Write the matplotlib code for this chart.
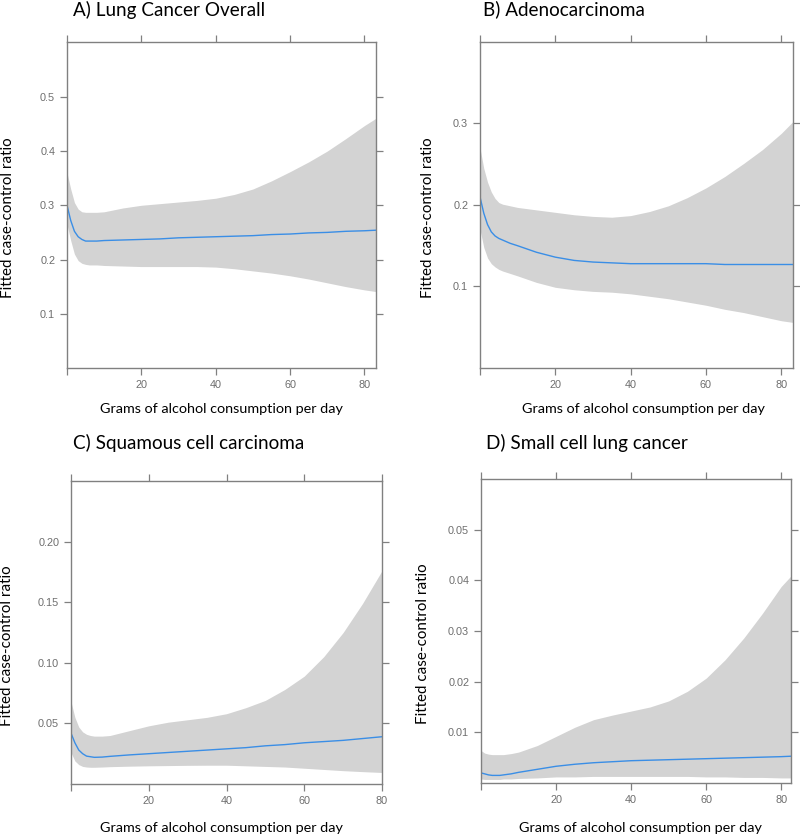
import matplotlib
matplotlib.use("Agg")
import matplotlib.pyplot as plt

# ---- data ----
x_a = [0, 1, 2, 3, 4, 5, 6, 8, 10, 15, 20, 25, 30, 35, 40, 45, 50, 55, 60, 65, 70, 75, 80, 83]
fit_a = [0.300, 0.272, 0.252, 0.242, 0.237, 0.234, 0.234, 0.234, 0.235, 0.236, 0.237, 0.238,
         0.240, 0.241, 0.242, 0.243, 0.244, 0.246, 0.247, 0.249, 0.250, 0.252, 0.253, 0.254]
upr_a = [0.360, 0.330, 0.305, 0.293, 0.288, 0.287, 0.287, 0.287, 0.288, 0.295, 0.300, 0.303,
         0.306, 0.309, 0.313, 0.320, 0.330, 0.345, 0.362, 0.380, 0.400, 0.423, 0.447, 0.460]
lwr_a = [0.265, 0.235, 0.210, 0.198, 0.193, 0.191, 0.190, 0.190, 0.189, 0.188, 0.187, 0.187,
         0.187, 0.187, 0.186, 0.183, 0.179, 0.175, 0.170, 0.164, 0.157, 0.150, 0.144, 0.141]

x_b = [0, 1, 2, 3, 4, 5, 6, 8, 10, 15, 20, 25, 30, 35, 40, 45, 50, 55, 60, 65, 70, 75, 80, 83]
fit_b = [0.210, 0.190, 0.176, 0.167, 0.162, 0.159, 0.157, 0.153, 0.150, 0.142, 0.136, 0.132,
         0.130, 0.129, 0.128, 0.128, 0.128, 0.128, 0.128, 0.127, 0.127, 0.127, 0.127, 0.127]
upr_b = [0.270, 0.245, 0.228, 0.216, 0.208, 0.203, 0.201, 0.199, 0.197, 0.194, 0.191, 0.188,
         0.186, 0.185, 0.187, 0.192, 0.199, 0.209, 0.221, 0.235, 0.251, 0.268, 0.288, 0.302]
lwr_b = [0.170, 0.148, 0.135, 0.128, 0.124, 0.121, 0.119, 0.116, 0.113, 0.105, 0.099, 0.096,
         0.094, 0.093, 0.091, 0.088, 0.085, 0.081, 0.077, 0.072, 0.068, 0.063, 0.058, 0.056]

x_c = [0, 1, 2, 3, 4, 5, 6, 8, 10, 15, 20, 25, 30, 35, 40, 45, 50, 55, 60, 65, 70, 75, 80]
fit_c = [0.042, 0.034, 0.028, 0.025, 0.023, 0.0225, 0.022, 0.0222, 0.0228, 0.024, 0.025, 0.026,
         0.027, 0.028, 0.029, 0.030, 0.0315, 0.0325, 0.034, 0.035, 0.036, 0.0375, 0.039]
upr_c = [0.068, 0.055, 0.047, 0.043, 0.041, 0.040, 0.0395, 0.0395, 0.040, 0.044, 0.048, 0.051,
         0.053, 0.055, 0.058, 0.063, 0.069, 0.078, 0.089, 0.105, 0.125, 0.149, 0.176]
lwr_c = [0.026, 0.019, 0.016, 0.0145, 0.014, 0.0138, 0.0138, 0.014, 0.0143, 0.0147, 0.015, 0.0152,
         0.0154, 0.0155, 0.0155, 0.015, 0.0145, 0.014, 0.013, 0.012, 0.011, 0.0102, 0.0095]

x_d = [0, 1, 2, 3, 4, 5, 6, 8, 10, 15, 20, 25, 30, 35, 40, 45, 50, 55, 60, 65, 70, 75, 80, 83]
fit_d = [0.0020, 0.0018, 0.0016, 0.0015, 0.0015, 0.0015, 0.0016, 0.0018, 0.0021, 0.0027, 0.0033, 0.0037,
         0.0040, 0.0042, 0.0044, 0.0045, 0.0046, 0.0047, 0.0048, 0.0049, 0.0050, 0.0051, 0.0052, 0.0053]
upr_d = [0.0064, 0.0059, 0.0057, 0.0056, 0.0056, 0.0056, 0.0056, 0.0058, 0.0061, 0.0074, 0.0092, 0.0110,
         0.0125, 0.0134, 0.0142, 0.0150, 0.0162, 0.0181, 0.0207, 0.0243, 0.0286, 0.0335, 0.0388, 0.0412]
lwr_d = [0.0008, 0.0007, 0.0007, 0.0007, 0.0007, 0.0007, 0.0008, 0.0008, 0.0009, 0.0010, 0.0012, 0.0012,
         0.0013, 0.0013, 0.0013, 0.0013, 0.0013, 0.0013, 0.0012, 0.0012, 0.0011, 0.0011, 0.0010, 0.0010]

titles = ["A) Lung Cancer Overall", "B) Adenocarcinoma",
          "C) Squamous cell carcinoma", "D) Small cell lung cancer"]
yticks_a = [0.1, 0.2, 0.3, 0.4, 0.5]
yticks_b = [0.1, 0.2, 0.3]
yticks_c = [0.05, 0.10, 0.15, 0.20]
yticks_d = [0.01, 0.02, 0.03, 0.04, 0.05]
xticks = [0, 20, 40, 60, 80]

W, H = 800, 834
fig = plt.figure(figsize=(W / 100, H / 100), dpi=100)

BAND = "#d3d3d3"
LINE = "#3a8ee6"
AXC = "#808080"
LABEL_FONT = "Lato"

# panel boxes in pixels: left, top, right, bottom
panels = [
    dict(box=(67, 42, 376, 368), x=x_a, fit=fit_a, upr=upr_a, lwr=lwr_a, xlim=(0, 83.1),
         ylim=(0.0, 0.601), yt=yticks_a, fmt="%.1f", title=(73, 16), xlab=(221, 413), ylab=(8, 218)),
    dict(box=(480, 42, 793, 368), x=x_b, fit=fit_b, upr=upr_b, lwr=lwr_b, xlim=(0, 83.1),
         ylim=(0.0, 0.40), yt=yticks_b, fmt="%.1f", title=(483, 15), xlab=(643, 413), ylab=(428, 218)),
    dict(box=(71, 481, 382, 784), x=x_c, fit=fit_c, upr=upr_c, lwr=lwr_c, xlim=(0, 80),
         ylim=(0.0, 0.25), yt=yticks_c, fmt="%.2f", title=(73, 449), xlab=(221, 832), ylab=(7, 646)),
    dict(box=(481, 479, 791, 783), x=x_d, fit=fit_d, upr=upr_d, lwr=lwr_d, xlim=(0, 82.6),
         ylim=(0.0, 0.06), yt=yticks_d, fmt="%.2f", title=(486, 449), xlab=(640, 832), ylab=(423, 644)),
]

for p, title in zip(panels, titles):
    l, t, r, b = p["box"]
    ax = fig.add_axes([l / W, 1 - b / H, (r - l) / W, (b - t) / H])
    ax.fill_between(p["x"], p["lwr"], p["upr"], color=BAND, linewidth=0)
    ax.plot(p["x"], p["fit"], color=LINE, linewidth=1.0)
    ax.set_xlim(*p["xlim"])
    ax.set_ylim(*p["ylim"])
    ax.set_xticks(xticks)
    ax.set_xticklabels(["", "20", "40", "60", "80"])
    ax.set_yticks(p["yt"])
    ax.set_yticklabels([p["fmt"] % v for v in p["yt"]])
    for s in ax.spines.values():
        s.set_color(AXC)
        s.set_linewidth(1.0)
    ax.tick_params(direction="out", length=5, width=0.9, color=AXC,
                   labelsize=7.8, labelcolor="#6e6e6e", pad=3.5,
                   top=True, right=True)
    for lab in ax.get_xticklabels() + ax.get_yticklabels():
        lab.set_fontfamily("Liberation Sans")

    fig.text(p["title"][0] / W, 1 - p["title"][1] / H, title, fontsize=13.6,
             family=LABEL_FONT, ha="left", va="baseline")
    fig.text(p["xlab"][0] / W, 1 - p["xlab"][1] / H, "Grams of alcohol consumption per day",
             fontsize=10.4, family=LABEL_FONT, ha="center", va="baseline")
    fig.text(p["ylab"][0] / W, 1 - p["ylab"][1] / H, "Fitted case-control ratio",
             fontsize=10.9, family=LABEL_FONT, ha="center", va="center", rotation=90)

fig.savefig("out.png", dpi=100)
